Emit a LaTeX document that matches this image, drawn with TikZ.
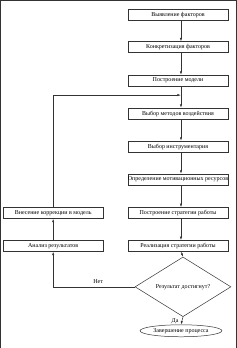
\documentclass[tikz,border=0pt]{standalone}
\usepackage{fontspec}
\setmainfont{Liberation Serif}
\usetikzlibrary{arrows.meta,shapes.geometric}

\begin{document}
\begin{tikzpicture}[x=1pt,y=-1pt,
  box/.style={draw,minimum width=100pt,minimum height=11pt,inner sep=0pt,font=\fontsize{6}{7}\selectfont},
  arr/.style={-{Latex[length=3.5pt,width=2.2pt]}},
  every path/.style={line width=0.5pt,draw=black!80}]
  \useasboundingbox (0,0) rectangle (236,348);
  \node[box] (factors) at (178,14.5) {Выявление факторов};
  \node[box] (concrete) at (178,47) {Конкретизация факторов};
  \node[box] (model) at (178,80.5) {Построение модели};
  \node[box] (methods) at (178,113.5) {Выбор методов воздействия};
  \node[box] (tools) at (178,146.5) {Выбор инструментария};
  \node[box] (motiv) at (178,179.5) {Определение мотивационных ресурсов};
  \node[box] (strategy) at (178,213) {Построение стратегии работы};
  \node[box] (realize) at (178,246) {Реализация стратегии работы};
  \node[box] (correct) at (53,213) {Внесение коррекции в модель};
  \node[box] (analyze) at (53,246) {Анализ результатов};
  \node[draw,diamond,minimum width=96pt,minimum height=38pt,inner sep=0pt,
    font=\fontsize{6}{7}\selectfont] (check) at (183,287) {Результат достигнут?};
  \node[draw,ellipse,minimum width=82pt,minimum height=12pt,inner sep=0pt,
    font=\fontsize{6}{7}\selectfont] (finish) at (181,331) {Завершение процесса};
  \coordinate (join) at (181,95);
  \draw[arr] ([xshift=3pt]factors.south) -- ([xshift=3pt]concrete.north);
  \draw[arr] ([xshift=3pt]concrete.south) -- ([xshift=3pt]model.north);
  \draw[arr] ([xshift=3pt]model.south) -- ([xshift=3pt]methods.north);
  \draw[arr] ([xshift=3pt]methods.south) -- ([xshift=3pt]tools.north);
  \draw[arr] ([xshift=3pt]tools.south) -- ([xshift=3pt]motiv.north);
  \draw[arr] ([xshift=3pt]motiv.south) -- ([xshift=3pt]strategy.north);
  \draw[arr] ([xshift=3pt]strategy.south) -- ([xshift=3pt]realize.north);
  \draw[arr] ([xshift=3pt]realize.south) -- (check.north);
  \draw[arr] (check.south) -- node[left,font=\fontsize{6}{7}\selectfont] {Да} (finish.north);
  \draw[arr] (check.west) -- node[above,pos=0.45,font=\fontsize{6}{7}\selectfont] {Нет} (check.west -| analyze.south) -- (analyze.south);
  \draw[arr] (analyze.north) -- (correct.south);
  \draw[arr] (correct.north) |- (join);
\end{tikzpicture}
\end{document}
